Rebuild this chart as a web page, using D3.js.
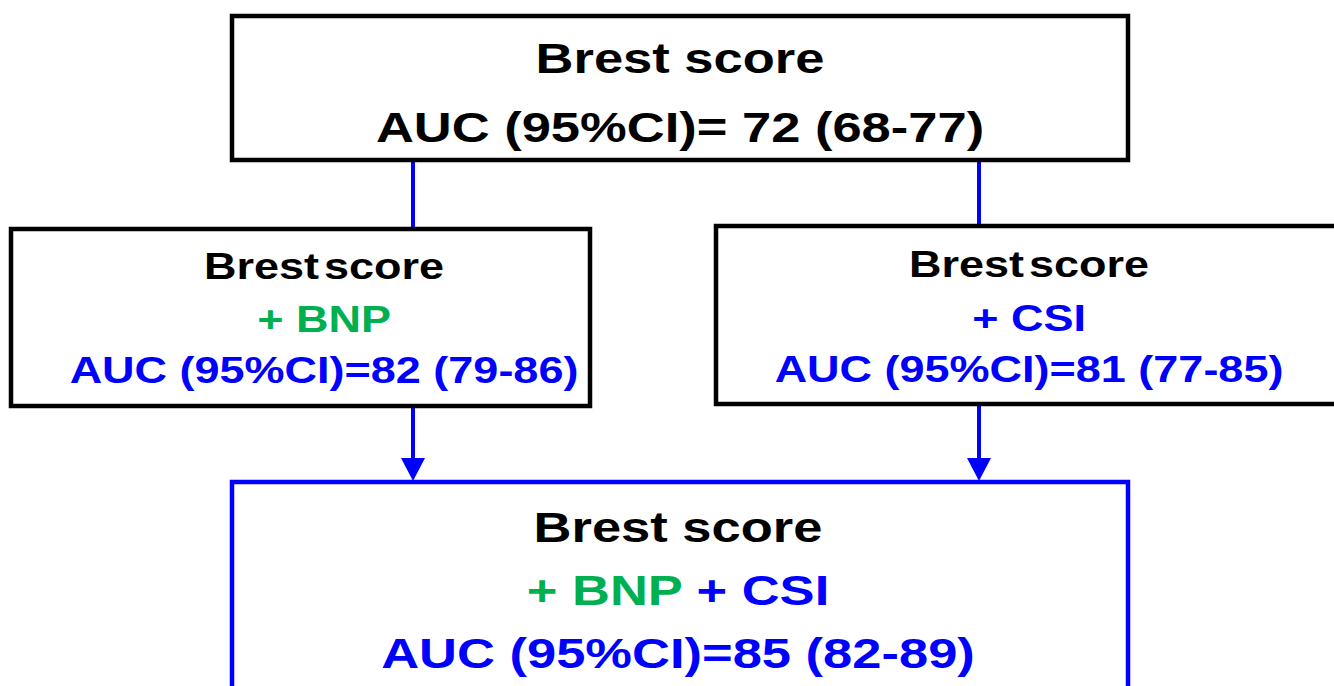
<!DOCTYPE html>
<html>
<head>
<meta charset="utf-8">
<script src="https://cdn.jsdelivr.net/npm/d3@7"></script>
<style>
  html, body { margin: 0; padding: 0; background: #fff; overflow: hidden; }
  text { font-family: "Liberation Sans", Arial, sans-serif; font-weight: bold; }
</style>
</head>
<body>
<div id="chart"></div>
<script>
// content of each box
var boxNames = ["base", "bnp", "csi", "both"];
var titles = ["Brest score", "Brest score", "Brest score", "Brest score"];
var addons = [[], [["+ BNP", "green"]], [["+ CSI", "blue"]], [["+ BNP ", "green"], ["+ CSI", "blue"]]];
var aucValues = [72, 82, 81, 85];
var aucCI = ["68-77", "79-86", "77-85", "82-89"];
var aucSep = ["= ", "=", "=", "="];

var colors = { black: "#000000", green: "#00b050", blue: "#0000ff" };

const width = 1334, height = 686;

// box geometry (stroke centre lines)
const boxes = [
  { x0: 232, x1: 1128, y0: 16,  y1: 160, stroke: colors.black, cx: 680,  size: 42, lines: [73, 142] },
  { x0: 11,  x1: 590,  y0: 229, y1: 406, stroke: colors.black, cx: 324,  size: 36, lines: [279, 332, 383] },
  { x0: 716, x1: 1345, y0: 226, y1: 404, stroke: colors.black, cx: 1029, size: 36, lines: [277, 331, 382] },
  { x0: 232, x1: 1128, y0: 482, y1: 720, stroke: colors.blue,  cx: 678,  size: 42, lines: [542, 605, 668] }
];
const sx = 1.25; // text in the picture is stretched horizontally

const svg = d3.select('#chart').append('svg')
  .attr('width', width)
  .attr('height', height);

// connectors
const links = [
  { x: 413, y0: 160, y1: 229, arrow: false },
  { x: 979, y0: 160, y1: 226, arrow: false },
  { x: 413, y0: 406, y1: 482, arrow: true },
  { x: 979, y0: 404, y1: 482, arrow: true }
];
const head = 24;

svg.selectAll('.link')
  .data(links)
  .enter()
  .append('line')
  .attr('class', 'link')
  .attr('x1', d => d.x)
  .attr('x2', d => d.x)
  .attr('y1', d => d.y0)
  .attr('y2', d => d.arrow ? d.y1 - head + 2 : d.y1)
  .attr('stroke', colors.blue)
  .attr('stroke-width', 4);

svg.selectAll('.head')
  .data(links.filter(d => d.arrow))
  .enter()
  .append('path')
  .attr('class', 'head')
  .attr('d', d => `M${d.x - head / 2},${d.y1 - head} L${d.x + head / 2},${d.y1 - head} L${d.x},${d.y1 - 1} Z`)
  .attr('fill', colors.blue);

const g = svg.selectAll('.box')
  .data(boxes)
  .enter()
  .append('g')
  .attr('class', 'box');

g.append('rect')
  .attr('x', d => d.x0)
  .attr('y', d => d.y0)
  .attr('width', d => d.x1 - d.x0)
  .attr('height', d => d.y1 - d.y0)
  .attr('fill', '#fff')
  .attr('stroke', d => d.stroke)
  .attr('stroke-width', 4.5);

g.each(function(d, i) {
  const group = d3.select(this);
  const rows = [];
  rows.push([[titles[i], "black"]]);
  if (addons[i].length) rows.push(addons[i]);
  const aucColor = i == 0 ? "black" : "blue";
  rows.push([[`AUC (95%CI)${aucSep[i]}${aucValues[i]} (${aucCI[i]})`, aucColor]]);

  rows.forEach(function(parts, r) {
    const t = group.append('text')
      .attr('transform', `translate(${d.cx},${d.lines[r]}) scale(${sx},1)`)
      .attr('text-anchor', 'middle')
      .attr('font-size', d.size)
      .style('word-spacing', (i == 1 || i == 2) && r == 0 ? '-6px' : null);
    parts.forEach(function(p) {
      t.append('tspan')
        .attr('fill', colors[p[1]])
        .style('white-space', 'pre')
        .text(p[0]);
    });
  });
});
</script>
</body>
</html>
